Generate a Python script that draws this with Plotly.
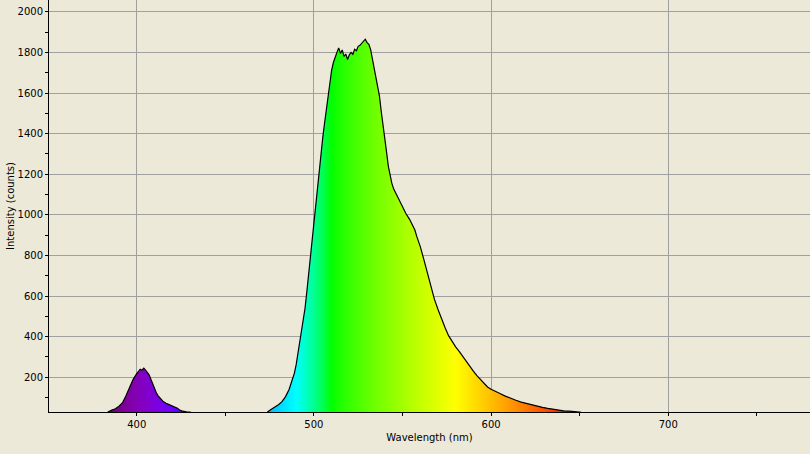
import plotly.graph_objects as go

# ---- data ----
wavelength = [350, 380, 382, 384, 386, 388, 390, 392, 394, 396, 398, 400, 401, 402, 403, 404, 405, 406,
              407, 408, 409, 410, 411, 412, 413, 414, 415, 417, 419, 421, 423, 424, 426, 428, 430, 434,
              440, 460, 470, 472, 474, 476, 478, 480, 482, 484, 486, 488, 489, 490, 491, 492, 493, 494,
              495, 496, 497, 498, 499, 500, 501, 502, 503, 504, 505, 506, 507, 508, 509, 510, 511, 512,
              513, 514, 515, 516, 517, 518, 519, 520, 521, 522, 523, 524, 525, 526, 527, 528, 529, 530,
              531, 532, 533, 534, 535, 536, 537, 538, 539, 540, 541, 542, 543, 544, 545, 546, 547, 548,
              549, 550, 552, 554, 556, 557, 558, 560, 562, 564, 566, 568, 570, 572, 574, 576, 578, 580,
              582, 584, 586, 588, 590, 592, 594, 596, 598, 600, 602, 605, 608, 611, 614, 617, 620, 623,
              626, 629, 632, 635, 638, 641, 644, 647, 650, 655, 660, 780]
intensity = [0, 0, 10, 30, 38, 45, 58, 75, 110, 148, 190, 218, 228, 240, 235, 245, 235, 225,
             212, 190, 165, 145, 125, 110, 100, 88, 80, 70, 63, 56, 48, 40, 33, 30, 28, 20,
             8, 0, 0, 10, 30, 42, 53, 65, 80, 105, 140, 190, 220, 262, 318, 365, 410, 465,
             540, 620, 705, 800, 890, 965, 1055, 1150, 1235, 1305, 1380, 1450, 1520, 1595, 1660, 1712, 1750, 1780,
             1800, 1822, 1795, 1812, 1780, 1792, 1765, 1788, 1800, 1790, 1815, 1808, 1830, 1835, 1845, 1852, 1865, 1848,
             1840, 1815, 1770, 1735, 1690, 1640, 1585, 1510, 1450, 1390, 1310, 1240, 1190, 1155, 1128, 1110, 1090, 1075,
             1055, 1040, 1005, 978, 945, 925, 895, 845, 782, 715, 640, 585, 535, 488, 445, 405, 375, 350,
             328, 302, 280, 255, 230, 208, 188, 168, 152, 141, 131, 120, 107, 96, 87, 78, 71, 64,
             58, 52, 47, 42, 38, 35, 33, 31, 28, 20, 10, 0]

x_ticks = [400, 500, 600, 700]
y_ticks = [200, 400, 600, 800, 1000, 1200, 1400, 1600, 1800, 2000]

BG = "#ECE9D8"
GRID = "#A0A0A0"
FONT = "DejaVu Sans"


def wl_rgb(w):
    # visible-spectrum colour used for the gradient fill (style only)
    if w < 380:
        r, g, b = 0.0, 0.0, 0.0
    elif w < 440:
        r, g, b = -(w - 440) / 60.0, 0.0, 1.0
    elif w < 490:
        r, g, b = 0.0, (w - 440) / 50.0, 1.0
    elif w < 510:
        r, g, b = 0.0, 1.0, -(w - 510) / 20.0
    elif w < 580:
        r, g, b = (w - 510) / 70.0, 1.0, 0.0
    elif w < 645:
        r, g, b = 1.0, -(w - 645) / 65.0, 0.0
    else:
        r, g, b = 1.0, 0.0, 0.0
    if w < 380:
        f = 0.3
    elif w < 420:
        f = 0.3 + 0.7 * (w - 380) / 40.0
    elif w <= 700:
        f = 1.0
    else:
        f = 0.3 + 0.7 * (780 - w) / 80.0
    gam = 0.8
    c = [0 if v == 0 else int(round(255 * (v * f) ** gam)) for v in (r, g, b)]
    return f"rgb({c[0]},{c[1]},{c[2]})"


g_start, g_stop = 380, 780
scale = []
for w in range(g_start, g_stop + 1, 5):
    scale.append([(w - g_start) / (g_stop - g_start), wl_rgb(w)])

fig = go.Figure()
fig.add_trace(go.Scatter(
    x=wavelength, y=intensity, mode="lines",
    line=dict(color="black", width=1.2),
    fill="tozeroy",
    fillgradient=dict(type="horizontal", colorscale=scale, start=g_start, stop=g_stop),
    hoverinfo="skip", showlegend=False,
))

fig.update_layout(
    width=810, height=454,
    paper_bgcolor=BG, plot_bgcolor=BG,
    margin=dict(l=49, r=0, t=0, b=42, autoexpand=False),
    font=dict(family=FONT, size=10, color="black"),
    showlegend=False,
)
fig.update_xaxes(
    range=[350.5, 780], tickvals=x_ticks, ticktext=[str(v) for v in x_ticks],
    showgrid=True, gridcolor=GRID, gridwidth=1, zeroline=False,
    showline=True, linecolor="black", linewidth=1,
    ticks="outside", ticklen=3, tickcolor="black",
    minor=dict(dtick=50, tick0=0, ticks="outside", ticklen=3, tickcolor="black", showgrid=False),
    title=dict(text="Wavelength (nm)", standoff=4, font=dict(family=FONT, size=10)),
    tickfont=dict(family=FONT, size=10),
)
fig.update_yaxes(
    range=[29, 2058], tickvals=y_ticks, ticktext=[str(v) for v in y_ticks],
    showgrid=True, gridcolor=GRID, gridwidth=1, zeroline=False,
    showline=True, linecolor="black", linewidth=1,
    ticks="outside", ticklen=3, tickcolor="black",
    minor=dict(dtick=100, tick0=0, ticks="outside", ticklen=3, tickcolor="black", showgrid=False),
    title=dict(text="Intensity (counts)", standoff=1, font=dict(family=FONT, size=10)),
    tickfont=dict(family=FONT, size=10),
)

fig.write_html("out.html")
